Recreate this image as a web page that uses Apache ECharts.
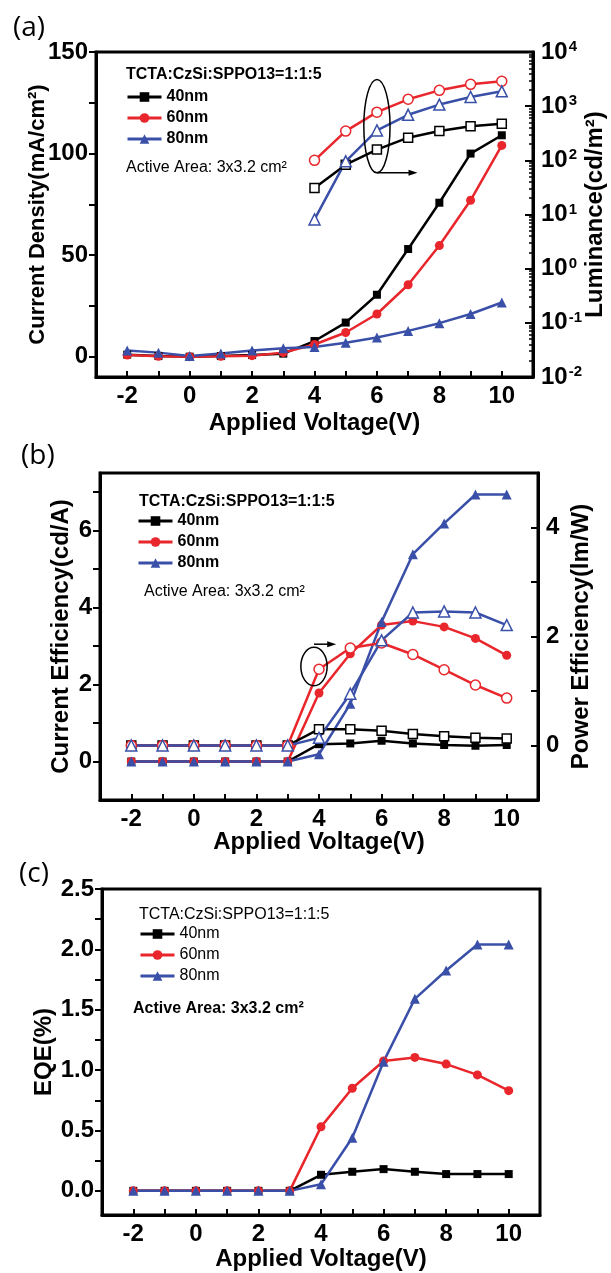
<!DOCTYPE html>
<html><head><meta charset="utf-8">
<script src="https://cdn.jsdelivr.net/npm/echarts@6/dist/echarts.min.js"></script>
<style>html,body{margin:0;padding:0;background:#fff}#c{width:611px;height:1273px}</style>
</head><body><div id="c"></div>
<script>
// ---------- data ----------
const voltage = [-2,-1,0,1,2,3,4,5,6,7,8,9,10];
const lumVoltage = [4,5,6,7,8,9,10];
// (a) current density, mA/cm2
const jd40 = [1,0.3,0,0.3,0.8,1.5,7.7,16.8,30.5,53,75.8,100,109];
const jd60 = [0.8,0.2,0,0.2,0.5,2,6,11.9,21,35.4,54.7,77,104];
const jd80 = [3.1,2,0.3,1.6,3.1,4.1,4.8,6.9,9.4,12.7,16.5,21,26.7];
// (a) luminance, cd/m2
const lum40 = [31,83,158,262,347,427,475];
const lum60 = [100,347,776,1340,1960,2530,2880];
const lum80 = [8.1,96,357,693,1070,1480,1880];
// (b) current efficiency, cd/A
const ce40 = [0,0,0,0,0,0,0.45,0.47,0.54,0.47,0.43,0.41,0.43];
const ce60 = [0,0,0,0,0,0,1.78,2.80,3.55,3.65,3.50,3.20,2.76];
const ce80 = [0,0,0,0,0,0,0.19,1.50,3.63,5.39,6.19,6.94,6.94];
// (b) power efficiency, lm/W
const pe40 = [0,0,0,0,0,0,0.30,0.30,0.27,0.21,0.17,0.14,0.13];
const pe60 = [0,0,0,0,0,0,1.40,1.79,1.88,1.67,1.39,1.11,0.87];
const pe80 = [0,0,0,0,0,0,0.14,0.95,1.93,2.44,2.46,2.44,2.21];
// (c) EQE, %
const eqe40 = [0,0,0,0,0,0,0.133,0.158,0.18,0.158,0.139,0.139,0.139];
const eqe60 = [0,0,0,0,0,0,0.53,0.85,1.075,1.105,1.05,0.96,0.83];
const eqe80 = [0,0,0,0,0,0,0.055,0.44,1.07,1.59,1.825,2.04,2.04];
// tick labels
const xTickLabels = [-2,0,2,4,6,8,10];
const xTicks = [-2,-1,0,1,2,3,4,5,6,7,8,9,10];
const jdTickLabels = [0,50,100,150];
const jdTicks = [0,25,50,75,100,125,150];
const lumTickLabels = [0.01,0.1,1,10,100,1000,10000];
const ceTickLabels = [0,2,4,6];
const ceTicks = [0,1,2,3,4,5,6,7];
const peTickLabels = [0,2,4];
const peTicks = [0,1,2,3,4];
const eqeTickLabels = [0,0.5,1.0,1.5,2.0,2.5];
const eqeTicks = [0,0.25,0.5,0.75,1.0,1.25,1.5,1.75,2.0,2.25,2.5];
const seriesNames = ['40nm','60nm','80nm'];
const noteTop = 'TCTA:CzSi:SPPO13=1:1:5';
const noteArea = 'Active Area: 3x3.2 cm\u00B2';

// ---------- style ----------
const FF = '"Liberation Sans", Arial, sans-serif';
const BLACK = '#000000', RED = '#e8262b', BLUE = '#3a50a8';
const COLORS = [BLACK, RED, BLUE];
const SYMS = [['rect',8],['circle',9],['triangle',10]];

const lumMinor = [];
for (let e = -2; e <= 3; e++) for (let m = 2; m <= 9; m++) lumMinor.push(+(m * Math.pow(10, e)).toPrecision(3));

function mk(name, xs, ys, k, open, xi, yi) {
  return {
    type: 'line', name, xAxisIndex: xi, yAxisIndex: yi,
    data: xs.map((x, i) => [x, ys[i]]),
    symbol: SYMS[k][0], symbolSize: open ? SYMS[k][1] + 1 : SYMS[k][1],
    lineStyle: { color: COLORS[k], width: 2.5 },
    itemStyle: open ? { color: '#ffffff', borderColor: COLORS[k], borderWidth: 1.5 } : { color: COLORS[k] },
    emphasis: { disabled: true }, animation: false
  };
}

const grids = [
  { left: 96, top: 52, width: 437, height: 325 },
  { left: 100, top: 473, width: 438, height: 327 },
  { left: 102, top: 889, width: 438, height: 326 }
].map(g => Object.assign(g, {
  show: true, borderColor: '#000', borderWidth: 3, backgroundColor: 'transparent',
  containLabel: false, outerBoundsMode: 'none'
}));

const labelStyle = { color: '#000', fontSize: 24, fontWeight: 'bold', fontFamily: FF };
function nameStyle(sz) { return { color: '#000', fontSize: sz, fontWeight: 'bold', fontFamily: FF }; }
const axLine = { show: true, onZero: false, lineStyle: { color: '#000', width: 3 } };

function xAx(gi, gap) {
  return {
    type: 'value', gridIndex: gi, min: -3, max: 11, interval: 1,
    name: 'Applied Voltage(V)', nameLocation: 'middle', nameGap: gap, nameTextStyle: nameStyle(24),
    nameMoveOverlap: false,
    axisLine: axLine,
    axisTick: { show: true, inside: true, length: 6, lineStyle: { color: '#000', width: 2 }, customValues: xTicks },
    axisLabel: Object.assign({ margin: 7, customValues: xTickLabels }, labelStyle),
    splitLine: { show: false }
  };
}
function yAx(gi, pos, min, max, name, nsz, gap, labels, ticks, inside, fmt) {
  return {
    type: 'value', gridIndex: gi, position: pos, min, max,
    name, nameLocation: 'middle', nameGap: gap, nameTextStyle: nameStyle(nsz),
    nameMoveOverlap: false,
    axisLine: axLine,
    axisTick: { show: true, inside, length: 7, lineStyle: { color: '#000', width: 2 }, customValues: ticks },
    axisLabel: Object.assign({ margin: 8, customValues: labels, formatter: fmt }, labelStyle),
    splitLine: { show: false }
  };
}

const panelFont = { fontSize: 28, fontWeight: 'normal', fontFamily: '"Open Sans", sans-serif', color: '#000' };
const option = {
  backgroundColor: '#ffffff',
  animation: false,
  textStyle: { fontFamily: FF },
  grid: grids,
  title: [
    { text: '(a)', left: 8, top: 9, textStyle: panelFont },
    { text: '(b)', left: 16, top: 437, textStyle: panelFont },
    { text: '(c)', left: 14, top: 855, textStyle: panelFont },
    { text: noteTop, left: 121, top: 62, textStyle: { fontSize: 16, fontWeight: 'bold', fontFamily: FF, color: '#000' } },
    { text: noteArea, left: 121, top: 155, textStyle: { fontSize: 16, fontWeight: 'normal', fontFamily: FF, color: '#000' } },
    { text: noteTop, left: 134, top: 489, textStyle: { fontSize: 16, fontWeight: 'bold', fontFamily: FF, color: '#000' } },
    { text: noteArea, left: 139, top: 579, textStyle: { fontSize: 16, fontWeight: 'normal', fontFamily: FF, color: '#000' } },
    { text: noteTop, left: 134, top: 902, textStyle: { fontSize: 16, fontWeight: 'normal', fontFamily: FF, color: '#000' } },
    { text: noteArea, left: 128, top: 996, textStyle: { fontSize: 16, fontWeight: 'bold', fontFamily: FF, color: '#000' } }
  ],
  legend: [
    { left: 121, top: 84, fw: 'bold' },
    { left: 132, top: 508, fw: 'bold' },
    { left: 134, top: 921, fw: 'normal' }
  ].map(l => ({
    data: seriesNames, orient: 'vertical', left: l.left, top: l.top,
    itemWidth: 34, itemHeight: 12, itemGap: 5, selectedMode: false,
    lineStyle: { width: 3 },
    textStyle: { fontSize: 16, fontWeight: l.fw, fontFamily: FF, color: '#000' }
  })),
  xAxis: [xAx(0, 34), xAx(1, 30), xAx(2, 32)],
  yAxis: [
    yAx(0, 'left', -10, 150, 'Current Density(mA/cm\u00B2)', 22, 47, jdTickLabels, jdTicks, false),
    {
      type: 'log', gridIndex: 0, position: 'right', min: 0.01, max: 10000, logBase: 10,
      name: 'Luminance(cd/m\u00B2)', nameLocation: 'middle', nameGap: 50, nameTextStyle: nameStyle(24),
      nameMoveOverlap: false,
      axisLine: axLine,
      axisTick: { show: true, inside: true, length: 4, lineStyle: { color: '#000', width: 1.5 }, customValues: lumMinor },
      axisLabel: {
        margin: 8, customValues: lumTickLabels,
        formatter: v => '{b|10}{s|' + Math.round(Math.log10(v)) + '}',
        rich: {
          b: { fontSize: 24, fontWeight: 'bold', fontFamily: FF, color: '#000' },
          s: { fontSize: 15, fontWeight: 'bold', fontFamily: FF, color: '#000', verticalAlign: 'top', padding: [0, 0, 10, 1] }
        }
      },
      splitLine: { show: false }
    },
    yAx(1, 'left', -1, 7.5, 'Current Efficiency(cd/A)', 24, 27, ceTickLabels, ceTicks, false),
    yAx(1, 'right', -1, 5, 'Power Efficiency(lm/W)', 24, 31, peTickLabels, peTicks, true),
    yAx(2, 'left', -0.2, 2.5, 'EQE(%)', 24, 46, eqeTickLabels, eqeTicks, false, v => Number(v).toFixed(1)),
    {
      type: 'log', gridIndex: 0, position: 'right', min: 0.01, max: 10000, logBase: 10,
      axisLine: { show: false, onZero: false },
      axisTick: { show: true, inside: true, length: 8, lineStyle: { color: '#000', width: 2 }, customValues: lumTickLabels },
      axisLabel: { show: false }, splitLine: { show: false }
    }
  ],
  series: [
    mk('40nm', voltage, jd40, 0, false, 0, 0),
    mk('60nm', voltage, jd60, 1, false, 0, 0),
    mk('80nm', voltage, jd80, 2, false, 0, 0),
    mk('40nm L', lumVoltage, lum40, 0, true, 0, 1),
    mk('60nm L', lumVoltage, lum60, 1, true, 0, 1),
    mk('80nm L', lumVoltage, lum80, 2, true, 0, 1),
    mk('40nm', voltage, ce40, 0, false, 1, 2),
    mk('60nm', voltage, ce60, 1, false, 1, 2),
    mk('80nm', voltage, ce80, 2, false, 1, 2),
    mk('40nm PE', voltage, pe40, 0, true, 1, 3),
    mk('60nm PE', voltage, pe60, 1, true, 1, 3),
    mk('80nm PE', voltage, pe80, 2, true, 1, 3),
    mk('40nm', voltage, eqe40, 0, false, 2, 4),
    mk('60nm', voltage, eqe60, 1, false, 2, 4),
    mk('80nm', voltage, eqe80, 2, false, 2, 4)
  ]
};

const chart = echarts.init(document.getElementById('c'), null, { renderer: 'canvas' });
chart.setOption(option);

// annotation ellipses + arrows, placed in data coordinates
function annot(xi, yi, cx, cy, rxU, ryU, ax0, ay, ax1) {
  const f = { xAxisIndex: xi, yAxisIndex: yi };
  const c = chart.convertToPixel(f, [cx, cy]);
  const e = chart.convertToPixel(f, [cx + rxU, cy + ryU]);
  const a0 = chart.convertToPixel(f, [ax0, ay]);
  const a1 = chart.convertToPixel(f, [ax1, ay]);
  return [
    { type: 'ellipse', shape: { cx: c[0], cy: c[1], rx: e[0] - c[0], ry: c[1] - e[1] }, style: { fill: 'none', stroke: '#000', lineWidth: 1.5 }, z: 100 },
    { type: 'line', shape: { x1: a0[0], y1: a0[1], x2: a1[0] - 4, y2: a1[1] }, style: { stroke: '#000', lineWidth: 1.5 }, z: 100 },
    { type: 'polygon', shape: { points: [[a1[0], a1[1]], [a1[0] - 9, a1[1] - 3], [a1[0] - 9, a1[1] + 3]] }, style: { fill: '#000' }, z: 100 }
  ];
}
chart.setOption({
  graphic: [].concat(
    annot(0, 0, 6, 113.5, 0.42, 23, 6, 90.5, 7.3),
    annot(1, 2, 3.84, 2.47, 0.42, 0.5, 3.84, 3.05, 4.55)
  )
});
</script>
</body></html>
